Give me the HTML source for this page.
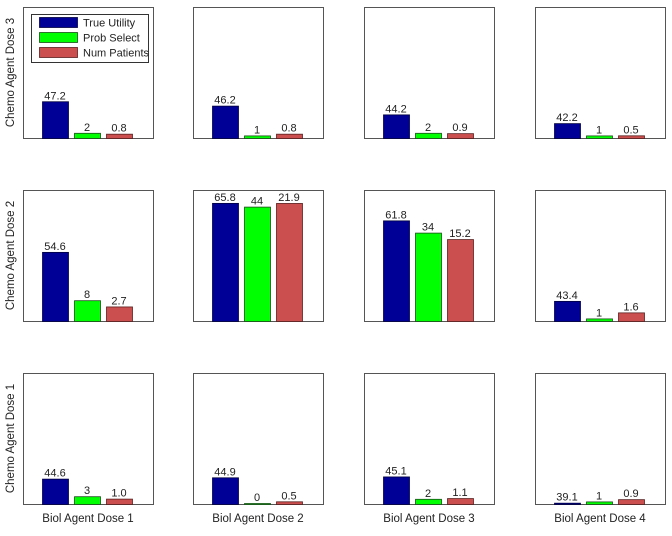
<!DOCTYPE html>
<html><head><meta charset="utf-8"><style>
body{margin:0;background:#fff;width:672px;height:531px;overflow:hidden}
text{font-family:"Liberation Sans",Arial,sans-serif;fill:#222}
</style></head><body>
<svg id="chart" width="672" height="531" viewBox="0 0 672 531" xmlns="http://www.w3.org/2000/svg"></svg>
<script>
// rows: top = Chemo Dose 3, middle = Dose 2, bottom = Dose 1; columns = Biol Dose 1..4
const rowLabels = ["Chemo Agent Dose 3","Chemo Agent Dose 2","Chemo Agent Dose 1"];
const colLabels = ["Biol Agent Dose 1","Biol Agent Dose 2","Biol Agent Dose 3","Biol Agent Dose 4"];
const seriesNames = ["True Utility","Prob Select","Num Patients"];
const trueUtility = [[47.2,46.2,44.2,42.2],[54.6,65.8,61.8,43.4],[44.6,44.9,45.1,39.1]];
const probSelect = [[2,1,2,1],[8,44,34,1],[3,0,2,1]];
const numPatients = [[0.8,0.8,0.9,0.5],[2.7,21.9,15.2,1.6],[1.0,0.5,1.1,0.9]];
const labelUtility = [["47.2","46.2","44.2","42.2"],["54.6","65.8","61.8","43.4"],["44.6","44.9","45.1","39.1"]];
const labelProb = [["2","1","2","1"],["8","44","34","1"],["3","0","2","1"]];
const labelNum = [["0.8","0.8","0.9","0.5"],["2.7","21.9","15.2","1.6"],["1.0","0.5","1.1","0.9"]];

const NS="http://www.w3.org/2000/svg";
const svg=document.getElementById('chart');
const colX=[23,193,364,535], rowY=[7,190,373], PW=130, PH=131;
const colors=["#000096","#00ff00","#cc4f4f"];
const strokes=["#000040","#1a4d1a","#5a1f1f"];
const domains=[[38.8,38.8+PH/4.375],[0,PH/2.6],[0,PH/5.39]];
function yScale(s,v){const d=domains[s];return Math.max(1,(v-d[0])/(d[1]-d[0])*PH);}
function mk(tag,attrs,parent){const e=document.createElementNS(NS,tag);for(const k in attrs)e.setAttribute(k,attrs[k]);(parent||svg).appendChild(e);return e;}
const data=[trueUtility,probSelect,numPatients], labels=[labelUtility,labelProb,labelNum];
const keys=["utility","prob","patients"];
for(let r=0;r<3;r++){for(let c=0;c<4;c++){
  const g=mk('g',{});
  
  
  const px=colX[c], py=rowY[r];
  const box=mk('rect',{x:px+0.5,y:py+0.5,width:PW,height:PH,fill:'#fff',stroke:'#555','stroke-width':1},g);
  
  
  for(let s=0;s<3;s++){
    const v=data[s][r][c], h=yScale(s,v), bx=px+19+s*32, by=py+PH-h;
    const b=mk('rect',{x:bx+0.5,y:by+0.5,width:26,height:h,fill:colors[s],stroke:strokes[s],'stroke-width':0.8},g);
    
    
    const t=mk('text',{x:bx+13,y:by-2,'text-anchor':'middle','font-size':11},g);
    t.textContent=labels[s][r][c];
    
    
  }
}}
for(let r=0;r<3;r++){
  const cy=rowY[r]+PH/2;
  const t=mk('text',{x:0,y:0,transform:'translate(14,'+cy+') rotate(-90)','text-anchor':'middle','font-size':11.5});
  t.textContent=rowLabels[r];
  
  
}
for(let c=0;c<4;c++){
  const t=mk('text',{x:colX[c]+PW/2,y:522,'text-anchor':'middle','font-size':11.5});
  t.textContent=colLabels[c];
  
  
}
const lg=mk('g',{});


mk('rect',{x:31.5,y:14.5,width:117,height:48,fill:'#fff',stroke:'#333','stroke-width':1},lg);
for(let s=0;s<3;s++){
  const y=17+s*15;
  const sw=mk('rect',{x:39.5,y:y+0.5,width:38,height:10,fill:colors[s],stroke:strokes[s],'stroke-width':0.8},lg);
  
  
  const t=mk('text',{x:83,y:y+9.5,'font-size':11},lg);
  t.textContent=seriesNames[s];
  
  
}
</script>
</body></html>
